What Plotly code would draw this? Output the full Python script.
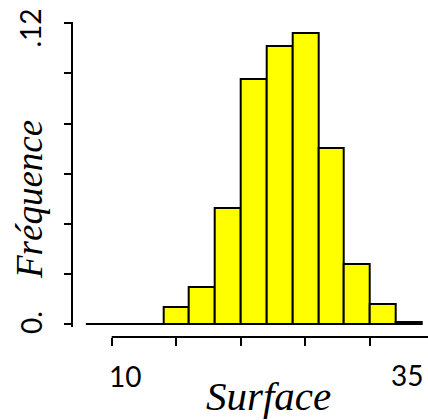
import plotly.graph_objects as go

# Histogram data (bin width 2.5)
bin_starts = [7.5, 10.0, 12.5, 15.0, 17.5, 20.0, 22.5, 25.0, 27.5, 30.0, 32.5, 35.0, 37.5]
frequences = [0.0, 0.0, 0.0, 0.0069, 0.0149, 0.0462, 0.0978, 0.111, 0.116, 0.0704, 0.024, 0.0079, 0.0007]
bin_width = 2.5

y_tick_vals = [0, 0.02, 0.04, 0.06, 0.08, 0.10, 0.12]
y_label_text = ["0.", ".12"]
x_tick_vals = [10, 16.25, 22.5, 28.75, 35]
x_label_text = ["10", "35"]

W, H = 428, 420
def px(x):
    return x / W
def py(y):
    return (H - y) / H

centers = [s + bin_width / 2 for s in bin_starts]
shown = [(c, f) for c, f in zip(centers, frequences) if f > 0]

fig = go.Figure()
# baseline across all bins
fig.add_trace(go.Scatter(
    x=[bin_starts[0], bin_starts[-1] + bin_width], y=[0, 0],
    mode="lines", line=dict(color="black", width=2), hoverinfo="skip", showlegend=False))
fig.add_trace(go.Bar(
    x=[c for c, f in shown], y=[f for c, f in shown], width=bin_width,
    marker=dict(color="#FFFF00", line=dict(color="black", width=2)),
    showlegend=False))

x_range = [6.225, 40.62]
fig.update_layout(
    width=W, height=H,
    margin=dict(l=0, r=0, t=0, b=0),
    paper_bgcolor="white", plot_bgcolor="white",
    bargap=0,
    xaxis=dict(
        domain=[px(72.7), 1], range=x_range,
        anchor="free", position=py(337),
        showline=False, showgrid=False, zeroline=False,
        tickmode="array", tickvals=x_tick_vals, ticktext=[""] * len(x_tick_vals),
        ticks="outside", ticklen=8, tickwidth=2, tickcolor="black",
    ),
    yaxis=dict(
        domain=[py(326.5), py(22.05)], range=[-0.001, 0.1205],
        showline=True, linecolor="black", linewidth=2,
        showgrid=False, zeroline=False,
        tickmode="array", tickvals=y_tick_vals, ticktext=[""] * len(y_tick_vals),
        ticks="outside", ticklen=7, tickwidth=2, tickcolor="black",
    ),
)

# x axis line starting at the first tick
fig.add_shape(type="line", xref="x", yref="paper",
              x0=x_tick_vals[0], x1=x_range[1], y0=py(337), y1=py(337),
              line=dict(color="black", width=2))

tick_font = dict(family="Lato", size=28, color="black")
# x tick labels
fig.add_annotation(x=px(125), y=py(375.5), xref="paper", yref="paper",
                   xanchor="center", yanchor="middle",
                   text=x_label_text[0], showarrow=False, font=tick_font)
fig.add_annotation(x=px(407), y=py(375), xref="paper", yref="paper",
                   xanchor="center", yanchor="middle",
                   text=x_label_text[1], showarrow=False, font=tick_font)
# y tick labels (rotated)
fig.add_annotation(x=px(30.5), y=py(322.5), xref="paper", yref="paper",
                   xanchor="center", yanchor="middle", textangle=-90,
                   text=y_label_text[0], showarrow=False, font=tick_font)
fig.add_annotation(x=px(30), y=py(27.5), xref="paper", yref="paper",
                   xanchor="center", yanchor="middle", textangle=-90,
                   text=y_label_text[1], showarrow=False, font=tick_font)

# axis titles
fig.add_annotation(x=px(268), y=py(396), xref="paper", yref="paper",
                   xanchor="center", yanchor="middle",
                   text="<i>Surface</i>", showarrow=False,
                   font=dict(family="Liberation Serif", size=41, color="black"))
fig.add_annotation(x=px(29), y=py(200), xref="paper", yref="paper",
                   xanchor="center", yanchor="middle", textangle=-90,
                   text="<i>Fréquence</i>", showarrow=False,
                   font=dict(family="Liberation Serif", size=37, color="black"))

fig.write_html("out.html")
